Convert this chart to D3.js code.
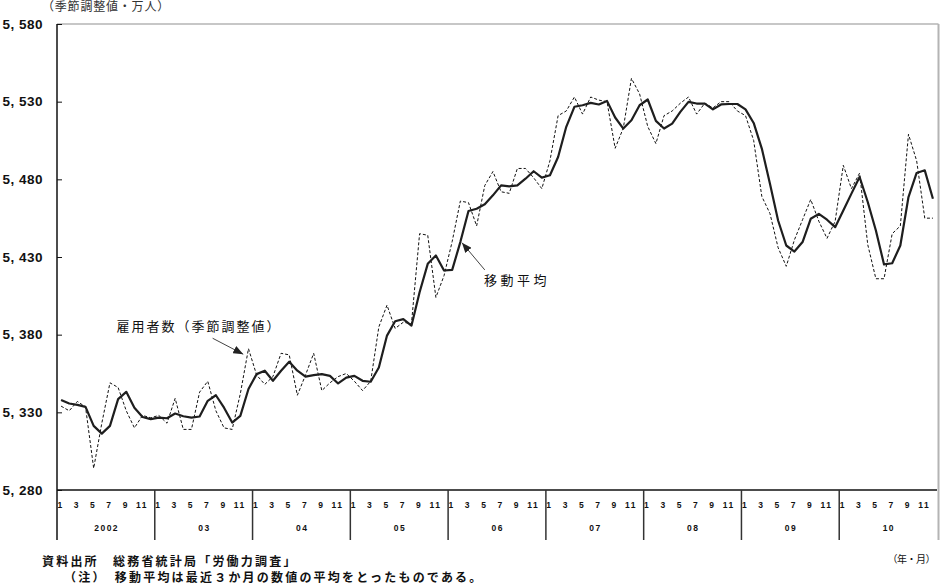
<!DOCTYPE html>
<html>
<head>
<meta charset="UTF-8">
<title>雇用者数の推移</title>
<script src="https://d3js.org/d3.v7.min.js"></script>
<style>
  body { margin: 0; background: #fff; }
  svg text { font-family: "Noto Sans CJK JP", sans-serif; fill: #111; }
  .num { font-family: "Liberation Sans", Arial, sans-serif; font-weight: bold; }
</style>
</head>
<body>
<svg id="ch" width="940" height="585"></svg>
<script>
// monthly, 2002/1 - 2010/12 (季節調整値・万人)
var years = ["2002", "03", "04", "05", "06", "07", "08", "09", "10"];
var monthLabels = [1, 3, 5, 7, 9, 11];
var yTicks = [5280, 5330, 5380, 5430, 5480, 5530, 5580];

var employees = [
  5334, 5331, 5337, 5333.5, 5294, 5323, 5349, 5346, 5331, 5320, 5328, 5326.5,
  5328, 5323, 5339, 5319, 5319, 5343, 5350, 5331, 5320, 5319, 5342, 5371,
  5354, 5348, 5353, 5368, 5367, 5341, 5354, 5368, 5344, 5349, 5353, 5355,
  5350, 5344, 5350, 5385, 5399, 5384, 5388, 5387, 5445, 5444, 5404, 5418,
  5440, 5466, 5465, 5450, 5476, 5485, 5472, 5471, 5487, 5487, 5481, 5474,
  5492, 5521, 5524, 5533, 5522, 5533, 5531, 5530, 5500, 5513, 5545, 5535,
  5514, 5503, 5521, 5524, 5529, 5533, 5522, 5529, 5526, 5530, 5530, 5524,
  5521, 5505, 5469, 5458, 5436, 5424, 5441, 5454, 5467, 5453, 5442, 5453,
  5489, 5474, 5484, 5438, 5416, 5416, 5445, 5450, 5509, 5492, 5455, 5455
];

var movingAvg = [
  5338, 5335.7, 5334.8, 5333.5, 5321.3, 5316.3, 5321.3, 5338.5, 5343.2, 5333, 5327, 5325.6,
  5326.6, 5326.2, 5329.2, 5327.5, 5326.6, 5327.3, 5337.4, 5341, 5333, 5323.4, 5327.7, 5345,
  5354.6, 5356.8, 5350.3, 5356.8, 5362.6, 5356.8, 5353, 5354, 5354.6, 5353.5, 5348.6, 5352.3,
  5353.5, 5350.3, 5349.7, 5358.9, 5379.4, 5388.6, 5390, 5385.8, 5407.3, 5425.6, 5431, 5421.3,
  5421.7, 5439.6, 5459.6, 5461.1, 5463.9, 5469.7, 5476.1, 5475.5, 5476.1, 5480.4, 5485.2, 5481.1,
  5482.6, 5494.4, 5513.8, 5526.7, 5527.7, 5529.2, 5528.2, 5530.5, 5519.8, 5512.7, 5518, 5527.7,
  5531.4, 5517.6, 5512.7, 5515.9, 5523.4, 5529.9, 5528.8, 5528.8, 5525, 5528.2, 5528.5, 5528.5,
  5525, 5516.3, 5499.8, 5477.2, 5453.5, 5437.4, 5433.5, 5439.6, 5454.6, 5457.8, 5454, 5449.2,
  5460, 5470.8, 5481.5, 5465.4, 5447.1, 5425.2, 5426, 5437.4, 5468.6, 5484.1, 5485.8, 5467.5
];

// annotation anchors in data space (month index, value)
var notes = [
  { label: "雇用者数（季節調整値）", tx: 6.8, tv: 5385, from: [18.6, 5377.7], to: [22.36, 5367.4], spacing: 2 },
  { label: "移動平均", tx: 51.9, tv: 5415.2, from: [52.0, 5421.7], to: [49.2, 5439.2], spacing: 3.5 }
];

var plot = { left: 57, right: 937, top: 24, bottom: 490, foot: 540 };
var nMonths = years.length * 12;

var svg = d3.select("#ch");

var x = d3.scaleLinear().domain([0, nMonths]).range([plot.left, plot.right]);
var xm = function (i) { return x(i + 0.5); };
var y = d3.scaleLinear().domain([yTicks[0], yTicks[yTicks.length - 1]]).range([plot.bottom, plot.top]);

// frame: top + right in grey
svg.append("line").attr("x1", plot.left).attr("x2", plot.right + 1.5).attr("y1", plot.top).attr("y2", plot.top)
  .attr("stroke", "#b4b4b4").attr("stroke-width", 1.5);
svg.append("line").attr("x1", plot.right + 1.5).attr("x2", plot.right + 1.5).attr("y1", plot.top).attr("y2", plot.foot)
  .attr("stroke", "#b4b4b4").attr("stroke-width", 2);

// y axis
var yAxis = svg.append("g")
  .attr("transform", "translate(" + plot.left + ",0)")
  .call(d3.axisLeft(y).tickValues(yTicks).tickSizeInner(-5).tickSizeOuter(0).tickPadding(14)
    .tickFormat(function (d) { return d3.format(",")(d).replace(",", ", "); }));
yAxis.select(".domain").remove();
yAxis.selectAll(".tick line").attr("stroke", "#111");
yAxis.selectAll(".tick text").attr("class", "num").style("font-size", "13.5px")
  .style("letter-spacing", "0.5px").attr("fill", "#111");

svg.append("line").attr("x1", plot.left).attr("x2", plot.left).attr("y1", plot.top).attr("y2", plot.foot)
  .attr("stroke", "#111").attr("stroke-width", 1.5);

// y title
svg.append("text").attr("x", 42).attr("y", 11)
  .style("font-size", "12px").style("fill", "#333").style("letter-spacing", "0.8px")
  .text("（季節調整値・万人）");

// x axis
svg.append("line").attr("x1", plot.left).attr("x2", plot.right).attr("y1", plot.bottom).attr("y2", plot.bottom)
  .attr("stroke", "#111").attr("stroke-width", 1.5);

var monthTicks = [];
years.forEach(function (yr, k) {
  monthLabels.forEach(function (m) { monthTicks.push({ i: k * 12 + m - 1, m: m }); });
});

svg.append("g").selectAll("text").data(monthTicks).join("text")
  .attr("class", "num")
  .attr("x", function (d) { return xm(d.i) - 0.5; })
  .attr("y", 508)
  .attr("text-anchor", "middle")
  .style("font-size", "8.5px").style("letter-spacing", "1.5px")
  .text(function (d) { return d.m; });

svg.append("g").selectAll("line").data(d3.range(1, years.length)).join("line")
  .attr("x1", function (k) { return x(k * 12); })
  .attr("x2", function (k) { return x(k * 12); })
  .attr("y1", plot.bottom).attr("y2", plot.foot)
  .attr("stroke", "#333").attr("stroke-width", 1.5);

svg.append("g").selectAll("text").data(years).join("text")
  .attr("class", "num")
  .attr("x", function (d, k) { return x(k * 12 + 6) + 0.75; })
  .attr("y", 531)
  .attr("text-anchor", "middle")
  .style("font-size", "8.5px").style("letter-spacing", "1.5px")
  .text(function (d) { return d; });

// series
var line = function (vals) {
  return d3.line().x(function (d, i) { return xm(i); }).y(function (d) { return y(d); })(vals);
};

svg.append("path").attr("d", line(employees))
  .attr("fill", "none").attr("stroke", "#111").attr("stroke-width", 1)
  .attr("stroke-dasharray", "3,2");

svg.append("path").attr("d", line(movingAvg))
  .attr("fill", "none").attr("stroke", "#1e1e1e").attr("stroke-width", 2.2)
  .attr("stroke-linejoin", "round");

// annotations
svg.append("defs").append("marker")
  .attr("id", "arr").attr("markerUnits", "userSpaceOnUse")
  .attr("markerWidth", 10).attr("markerHeight", 8)
  .attr("refX", 10).attr("refY", 4).attr("orient", "auto")
  .append("path").attr("d", "M0,0 L10,4 L0,8 Z").attr("fill", "#222");

notes.forEach(function (n) {
  svg.append("line")
    .attr("x1", xm(n.from[0])).attr("y1", y(n.from[1]))
    .attr("x2", xm(n.to[0])).attr("y2", y(n.to[1]))
    .attr("stroke", "#444").attr("stroke-width", 1)
    .attr("marker-end", "url(#arr)");
  svg.append("text")
    .attr("x", xm(n.tx)).attr("y", y(n.tv))
    .attr("dy", "0.35em")
    .style("font-size", "13px").style("letter-spacing", n.spacing + "px")
    .text(n.label);
});

// source / notes
svg.append("text").attr("x", 42).attr("y", 566)
  .style("font-size", "12px").style("font-weight", "bold").style("letter-spacing", "2.2px")
  .text("資料出所　総務省統計局「労働力調査」");
svg.append("text").attr("x", 64).attr("y", 582)
  .style("font-size", "12px").style("font-weight", "bold").style("letter-spacing", "2.2px")
  .text("（注）　移動平均は最近３か月の数値の平均をとったものである。");
svg.append("text").attr("x", 935).attr("y", 563).attr("text-anchor", "end")
  .style("font-size", "10px").style("letter-spacing", "-0.5px")
  .text("（年・月）");
</script>
</body>
</html>
